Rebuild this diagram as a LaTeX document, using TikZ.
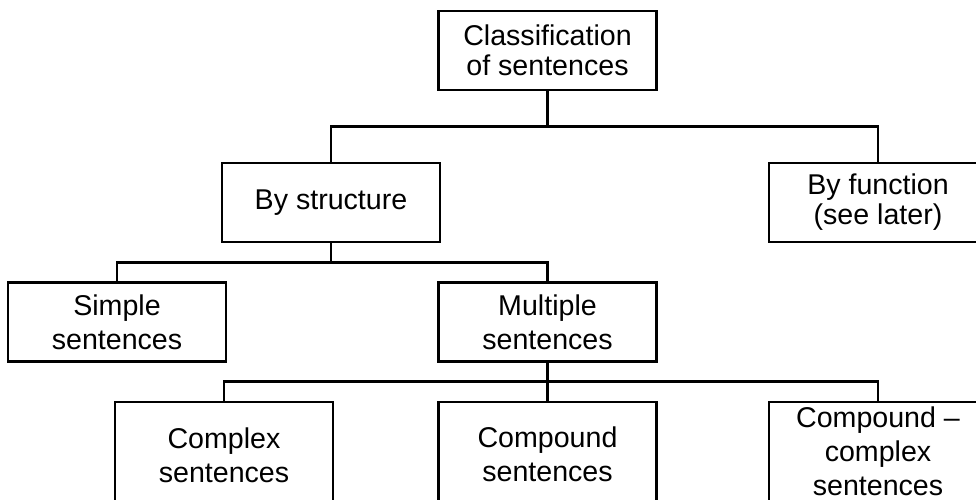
\documentclass[tikz,border=0pt]{standalone}
\usepackage{fontspec}
\setmainfont{Liberation Sans}
\usetikzlibrary{calc}
\begin{document}
\begin{tikzpicture}[x=1pt,y=-1pt,
  box/.style={draw, line width=2.6pt, minimum width=218pt, minimum height=79pt, inner sep=0pt},
  lowbox/.style={draw, line width=2.6pt, minimum width=218pt, minimum height=120pt, inner sep=0pt},
  txt/.style={align=center, font=\fontsize{28.6}{30}\selectfont, inner sep=0pt},
  txtb/.style={align=center, font=\fontsize{28.6}{34}\selectfont, inner sep=0pt},
  conn/.style={line width=2.6pt}]
\useasboundingbox (0,0) rectangle (976,500);
\clip (0,0) rectangle (976,500);
% level 1
\node[box, txt] (root) at (547.5,50.5) {Classification\\of sentences};
% level 2
\node[box, txt] (bys) at (331,202.5) {By structure};
\node[box, txt] (byf) at (878,202.5) {By function\\(see later)};
% level 3
\node[box, txtb] (simple) at (117,322) {Simple\\sentences};
\node[box, txtb] (mult) at (547.5,322) {Multiple\\sentences};
% level 4 (boxes run off the bottom edge)
\node[lowbox] (cx) at (224,462) {};
\node[txtb] (cxt) at (224,455) {Complex\\sentences};
\node[lowbox] (cp) at (547.5,462) {};
\node[txtb] (cpt) at (547.5,454) {Compound\\sentences};
\node[lowbox] (cc) at (878,462) {};
\node[txtb] (cct) at (878,451) {Compound –\\complex\\sentences};
% connectors
\coordinate (j1) at ($(root.south)!0.5!(root.south |- bys.north)$);
\draw[conn] (root.south) -- (j1) -| (bys.north);
\draw[conn] (j1) -| (byf.north);
\coordinate (j2) at ($(bys.south)!0.5!(bys.south |- simple.north)$);
\draw[conn] (bys.south) -- (j2) -| (simple.north);
\draw[conn] (j2) -| (mult.north);
\coordinate (j3) at ($(mult.south)!0.5!(mult.south |- cx.north)$);
\draw[conn] (mult.south) -- (j3) -| (cx.north);
\draw[conn] (j3) -- (cp.north);
\draw[conn] (j3) -| (cc.north);
\end{tikzpicture}
\end{document}
